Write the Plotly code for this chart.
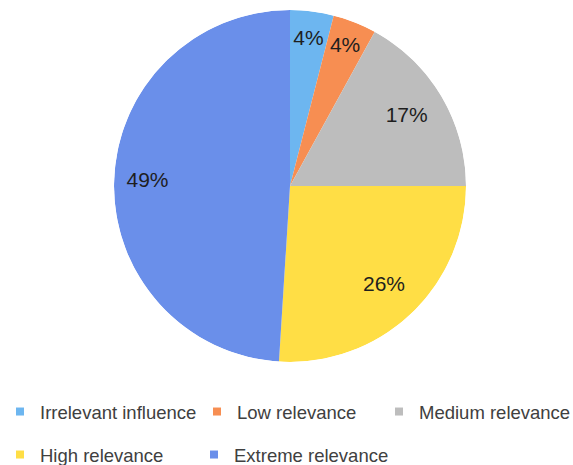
import numpy as np
import plotly.graph_objects as go

categories = ["Irrelevant influence", "Low relevance", "Medium relevance", "High relevance", "Extreme relevance"]
values = [4, 4, 17, 26, 49]
percent_labels = ["4%", "4%", "17%", "26%", "49%"]

# styling
colors = ["#6DB6F0", "#F78E52", "#BDBDBD", "#FFDE45", "#6A8FEA"]
label_r = [0.84, 0.85, 0.77, 0.78, 0.81]
legend_rows = ["legend", "legend", "legend", "legend2", "legend2"]
legend_widths = [152, 137, 151, 149, 170]

FONT = "Liberation Sans, Arial, sans-serif"

vals = np.array(values, dtype=float)
share = vals / vals.sum()
ends = np.cumsum(share) * 360.0
widths = share * 360.0
mids = ends - widths / 2.0

fig = go.Figure()
fig.add_trace(go.Barpolar(
    r=[1] * len(values), theta=mids, width=widths,
    marker=dict(color=colors, line=dict(width=0)),
    customdata=categories,
    hovertemplate="%{customdata}<extra></extra>",
    showlegend=False,
))
fig.add_trace(go.Scatterpolar(
    r=label_r, theta=mids, mode="text", text=percent_labels,
    textfont=dict(family=FONT, size=21, color="#1e1e1e"),
    showlegend=False, hoverinfo="skip",
))
for cat, col, lg, lw in zip(categories, colors, legend_rows, legend_widths):
    fig.add_trace(go.Scatterpolar(
        r=[None], theta=[None], mode="markers", name=cat,
        marker=dict(symbol="square", size=8, color=col),
        legend=lg, legendwidth=lw, showlegend=True,
    ))

fig.update_layout(
    width=573, height=465,
    margin=dict(l=0, r=0, t=0, b=0, autoexpand=False),
    paper_bgcolor="white",
    polar=dict(
        domain=dict(x=[114/573, 466/573], y=[103/465, 455/465]),
        bgcolor="rgba(0,0,0,0)",
        bargap=0,
        radialaxis=dict(range=[0, 1], visible=False, showgrid=False, showline=False),
        angularaxis=dict(rotation=90, direction="clockwise", visible=False,
                         showgrid=False, showline=False, ticks=""),
    ),
    legend=dict(orientation="h", x=0, xanchor="left", y=1 - 412/465, yanchor="middle",
                font=dict(family=FONT, size=18.5, color="#404040"), itemwidth=30),
    legend2=dict(orientation="h", x=0, xanchor="left", y=1 - 455/465, yanchor="middle",
                 font=dict(family=FONT, size=18.5, color="#404040"), itemwidth=30),
)

fig.write_html("out.html")
